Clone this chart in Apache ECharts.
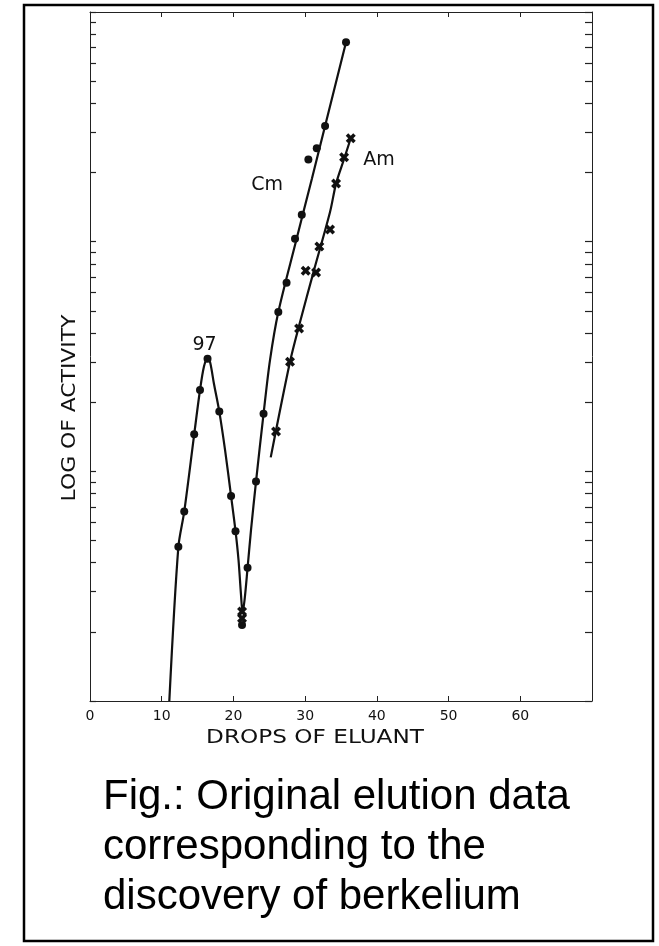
<!DOCTYPE html>
<html>
<head>
<meta charset="utf-8">
<script src="https://cdn.jsdelivr.net/npm/echarts@6/dist/echarts.min.js"></script>
<style>
  html, body { margin: 0; padding: 0; background: #ffffff; }
  #chart { width: 659px; height: 946px; }
</style>
</head>
<body>
<div id="chart"></div>
<script>
// ---- Data ----
// Smooth elution curve (element 97 peak + Cm rise), drops vs activity
const bkCurveX = [11.06, 12.32, 13.14, 14.53, 15.34, 15.90, 16.39, 16.74, 17.29, 18.03, 18.83, 19.67, 20.29, 20.71, 21.06, 21.27, 21.55, 21.97, 22.45, 23.15, 24.20, 25.10, 26.26, 28.59, 30.96, 32.78, 35.70];
const bkCurveY = [1.0, 4.68, 6.68, 14.5, 22.6, 28.7, 31.0, 29.9, 24.0, 18.2, 12.4, 7.81, 5.50, 4.11, 2.89, 2.44, 2.75, 3.79, 5.55, 9.03, 17.8, 30.5, 49.4, 96.7, 189, 319, 738];

// Am curve
const amCurveX = [25.20, 27.89, 29.29, 31.24, 33.47, 34.31, 35.43, 36.36];
const amCurveY = [11.5, 30.0, 44.7, 75.2, 134.6, 179, 229, 282];

// Measured points: dots
const dotX = [12.32, 13.14, 14.53, 15.34, 16.39, 18.03, 19.67, 20.29, 21.20, 21.97, 23.15, 24.20, 26.26, 27.41, 28.59, 29.53, 30.45, 31.62, 32.78, 35.70];
const dotY = [4.70, 6.68, 14.5, 22.6, 30.9, 18.2, 7.81, 5.48, 2.14, 3.80, 9.03, 17.8, 49.4, 66.2, 103, 131, 228, 255, 319, 738];

// Measured points: crosses
const crossX = [21.2, 21.2, 25.94, 27.89, 29.15, 30.08, 31.52, 31.98, 33.47, 34.31, 35.43, 36.36];
const crossY = [2.45, 2.29, 14.9, 30.0, 41.9, 74.7, 73.5, 95.2, 113, 179, 233, 282];

// Annotations
const peakLabel = '97';
const peakPoint = [16.39, 30.9];
const curveNames = ['Cm', 'Am'];
const curveNameX = [24.69, 40.31];
const curveNameY = [176, 227];

// Ticks
const xLabelValues = [0, 10, 20, 30, 40, 50, 60];
const xTickValues = [10, 20, 30, 40, 50, 60];
const yTickValues = [1, 2, 3, 4, 5, 6, 7, 8, 9, 10, 20, 30, 40, 50, 60, 70, 80, 90, 100, 200, 300, 400, 500, 600, 700, 800, 900, 1000];

const xTitle = 'DROPS OF ELUANT';
const yTitle = 'LOG OF ACTIVITY';
const caption = 'Fig.: Original elution data\ncorresponding to the\ndiscovery of berkelium';

// ---- Build ----
const zip = (xs, ys) => xs.map((x, i) => [x, ys[i]]);
const INK = '#111';
const LETTER = 'DejaVu Sans';
const crossPath = 'path://M0,2.5 L2.5,0 L5,2.5 L7.5,0 L10,2.5 L7.5,5 L10,7.5 L7.5,10 L5,7.5 L2.5,10 L0,7.5 L2.5,5 Z';

const chart = echarts.init(document.getElementById('chart'), null, { renderer: 'canvas' });

const axisLine = { show: true, onZero: false, lineStyle: { color: '#222', width: 1 } };

chart.setOption({
  animation: false,
  backgroundColor: '#ffffff',
  grid: { left: 90, right: 67, top: 12, bottom: 245, containLabel: false },
  xAxis: [
    {
      type: 'value', min: 0, max: 70, interval: 10, position: 'bottom',
      axisLine: axisLine,
      axisTick: { show: true, inside: true, length: 5, customValues: xTickValues, lineStyle: { color: '#222', width: 1 } },
      axisLabel: { show: true, customValues: xLabelValues, color: INK, fontSize: 14, fontFamily: LETTER, margin: 8 },
      splitLine: { show: false }
    },
    {
      type: 'value', min: 0, max: 70, interval: 10, position: 'top',
      axisLine: axisLine,
      axisTick: { show: true, inside: true, length: 5, customValues: xTickValues, lineStyle: { color: '#222', width: 1 } },
      axisLabel: { show: false },
      splitLine: { show: false }
    }
  ],
  yAxis: [
    {
      type: 'log', logBase: 10, min: 1, max: 1000, position: 'left',
      axisLine: axisLine,
      axisTick: { show: true, inside: true, length: 6, customValues: yTickValues, lineStyle: { color: '#222', width: 1.2 } },
      axisLabel: { show: false },
      splitLine: { show: false },
      minorTick: { show: false }
    },
    {
      type: 'log', logBase: 10, min: 1, max: 1000, position: 'right',
      axisLine: axisLine,
      axisTick: { show: true, inside: true, length: 7, customValues: yTickValues, lineStyle: { color: '#222', width: 1.2 } },
      axisLabel: { show: false },
      splitLine: { show: false },
      minorTick: { show: false }
    }
  ],
  series: [
    {
      name: 'elution curve', type: 'line', xAxisIndex: 0, yAxisIndex: 0,
      data: zip(bkCurveX, bkCurveY), smooth: 0.3, symbol: 'none',
      lineStyle: { color: INK, width: 2.2 }, z: 2,
      markPoint: {
        symbol: 'circle', symbolSize: 1, itemStyle: { color: 'rgba(0,0,0,0)' },
        label: { show: true, position: 'inside', color: INK, fontSize: 19, fontFamily: LETTER },
        data: [
          { coord: peakPoint, label: { formatter: peakLabel, offset: [-3, -14] } },
          { coord: [curveNameX[0], curveNameY[0]], label: { formatter: curveNames[0] } },
          { coord: [curveNameX[1], curveNameY[1]], label: { formatter: curveNames[1] } }
        ]
      }
    },
    {
      name: 'Am curve', type: 'line', xAxisIndex: 0, yAxisIndex: 0,
      data: zip(amCurveX, amCurveY), smooth: 0.3, symbol: 'none',
      lineStyle: { color: INK, width: 2.2 }, z: 2
    },
    {
      name: 'dots', type: 'scatter', xAxisIndex: 0, yAxisIndex: 0,
      data: zip(dotX, dotY), symbol: 'circle', symbolSize: 8,
      itemStyle: { color: INK, opacity: 1 }, z: 3
    },
    {
      name: 'crosses', type: 'scatter', xAxisIndex: 0, yAxisIndex: 0,
      data: zip(crossX, crossY), symbol: crossPath, symbolSize: 10,
      itemStyle: { color: INK, opacity: 1 }, z: 3
    }
  ],
  graphic: [
    {
      type: 'rect', silent: true,
      shape: { x: 24, y: 5, width: 629, height: 936 },
      style: { fill: 'none', stroke: '#000', lineWidth: 2.5 }
    },
    {
      type: 'text', silent: true, x: 315, y: 738, scaleX: 1.22,
      style: { text: xTitle, font: '19px "DejaVu Sans"', fill: INK, align: 'center', verticalAlign: 'middle' }
    },
    {
      type: 'text', silent: true, x: 70, y: 408, rotation: Math.PI / 2, scaleX: 1.15,
      style: { text: yTitle, font: '19px "DejaVu Sans"', fill: INK, align: 'center', verticalAlign: 'middle' }
    },
    {
      type: 'text', silent: true, x: 103, y: 772,
      style: { text: caption, font: '42px "Liberation Sans", Arial, sans-serif', fill: '#000', align: 'left', verticalAlign: 'top', lineHeight: 50 }
    }
  ]
});
</script>
</body>
</html>
